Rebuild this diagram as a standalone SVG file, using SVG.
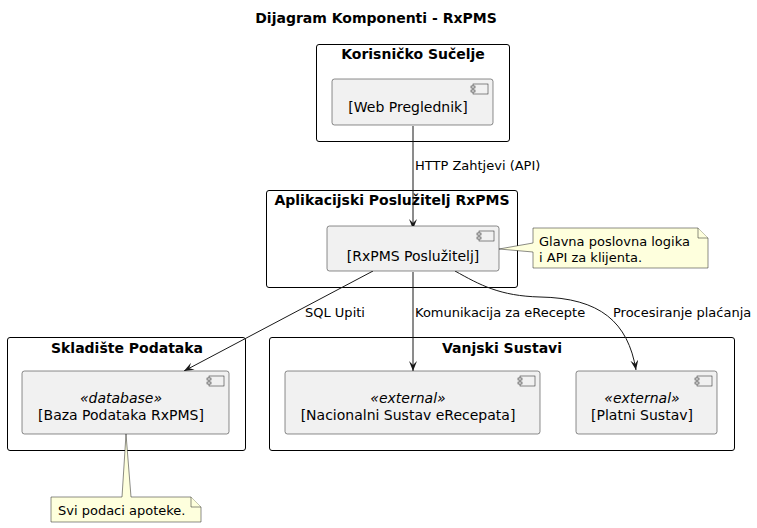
<svg xmlns="http://www.w3.org/2000/svg" width="757" height="528" viewBox="0 0 757 528">
<defs>
<style>
text{font-family:"DejaVu Sans","Liberation Sans",sans-serif;fill:#000}
.title{font-size:14px;font-weight:bold}
.ptitle{font-size:14px;font-weight:bold}
.pkg{fill:none;stroke:#000;stroke-width:1}
.comp{fill:#F1F1F1;stroke:#181818;stroke-width:0.5}
.ctext{font-size:14px}
.stereo{font-size:14px;font-style:italic}
.icon{fill:#F1F1F1;stroke:#181818;stroke-width:0.5}
.note{fill:#FEFFDD;stroke:#181818;stroke-width:0.5}
.ntext{font-size:13px}
.edge{fill:none;stroke:#181818;stroke-width:1}
.elabel{font-size:13px}
</style>
<marker id="arr" markerWidth="10" markerHeight="10" refX="10" refY="4" orient="auto" markerUnits="userSpaceOnUse">
<path d="M0,0 L10,4 L0,8 L4,4 Z" fill="#181818"/>
</marker>
</defs>
<rect width="757" height="528" fill="#fff"/>
<text class="title" x="376" y="23" text-anchor="middle">Dijagram Komponenti - RxPMS</text>

<g id="pkg-korisnicko">
<rect class="pkg" x="316.5" y="44.5" width="193" height="97" rx="2.5"/>
<text class="ptitle" x="413" y="59" text-anchor="middle">Korisničko Sučelje</text>
</g>
<g id="pkg-aplikacijski">
<rect class="pkg" x="266.5" y="190.5" width="251" height="97" rx="2.5"/>
<text class="ptitle" x="392" y="205" text-anchor="middle">Aplikacijski Poslužitelj RxPMS</text>
</g>
<g id="pkg-skladiste">
<rect class="pkg" x="7.5" y="337.5" width="238" height="113" rx="2.5"/>
<text class="ptitle" x="127" y="353" text-anchor="middle">Skladište Podataka</text>
</g>
<g id="pkg-vanjski">
<rect class="pkg" x="269.5" y="337.5" width="465" height="113" rx="2.5"/>
<text class="ptitle" x="502" y="353" text-anchor="middle">Vanjski Sustavi</text>
</g>

<g id="edges">
<path class="edge" d="M413,126 L413,229" marker-end="url(#arr)"/>
<text class="elabel" x="415" y="170">HTTP Zahtjevi (API)</text>
<path class="edge" d="M373,271 L184,371" marker-end="url(#arr)"/>
<text class="elabel" x="305" y="317">SQL Upiti</text>
<path class="edge" d="M413,272 L413,371" marker-end="url(#arr)"/>
<text class="elabel" x="415" y="317">Komunikacija za eRecepte</text>
<path class="edge" d="M455,271 C480,285 500,296 540,297 C600,298 628,322 636,370" marker-end="url(#arr)"/>
<text class="elabel" x="613" y="317">Procesiranje plaćanja</text>
</g>

<g id="web-preglednik">
<rect class="comp" x="332" y="79" width="161" height="46" rx="2.5"/>
<rect class="icon" x="473" y="84" width="15" height="10"/>
<rect class="icon" x="471" y="86" width="4" height="2"/>
<rect class="icon" x="471" y="90" width="4" height="2"/>
<text class="ctext" x="408" y="112" text-anchor="middle">[Web Preglednik]</text>
</g>

<g id="rxpms-posluzitelj">
<rect class="comp" x="327" y="226" width="172" height="45" rx="2.5"/>
<rect class="icon" x="479" y="231" width="15" height="10"/>
<rect class="icon" x="477" y="233" width="4" height="2"/>
<rect class="icon" x="477" y="237" width="4" height="2"/>
<text class="ctext" x="413" y="261" text-anchor="middle">[RxPMS Poslužitelj]</text>
</g>

<g id="note-posluzitelj">
<path class="note" d="M533,228 L698,228 L708,238 L708,268 L533,268 L533,252 L499,249 L533,243 Z"/>
<path class="note" d="M698,228 L698,238 L708,238"/>
<text class="ntext" x="539" y="246">Glavna poslovna logika</text>
<text class="ntext" x="539" y="262">i API za klijenta.</text>
</g>

<g id="baza-podataka">
<rect class="comp" x="22" y="371" width="207" height="63" rx="2.5"/>
<rect class="icon" x="209" y="376" width="15" height="10"/>
<rect class="icon" x="207" y="378" width="4" height="2"/>
<rect class="icon" x="207" y="382" width="4" height="2"/>
<text class="stereo" x="121" y="403" text-anchor="middle">«database»</text>
<text class="ctext" x="121" y="420" text-anchor="middle">[Baza Podataka RxPMS]</text>
</g>

<g id="note-baza">
<path class="note" d="M51,497 L122,497 L126,434 L131,497 L191,497 L201,507 L201,522 L51,522 Z"/>
<path class="note" d="M191,497 L191,507 L201,507"/>
<text class="ntext" x="58" y="515">Svi podaci apoteke.</text>
</g>

<g id="nacionalni-sustav">
<rect class="comp" x="285" y="371" width="255" height="63" rx="2.5"/>
<rect class="icon" x="520" y="376" width="15" height="10"/>
<rect class="icon" x="518" y="378" width="4" height="2"/>
<rect class="icon" x="518" y="382" width="4" height="2"/>
<text class="stereo" x="408" y="403" text-anchor="middle">«external»</text>
<text class="ctext" x="408" y="420" text-anchor="middle">[Nacionalni Sustav eRecepata]</text>
</g>

<g id="platni-sustav">
<rect class="comp" x="576" y="371" width="141" height="63" rx="2.5"/>
<rect class="icon" x="697" y="376" width="15" height="10"/>
<rect class="icon" x="695" y="378" width="4" height="2"/>
<rect class="icon" x="695" y="382" width="4" height="2"/>
<text class="stereo" x="642" y="403" text-anchor="middle">«external»</text>
<text class="ctext" x="642" y="420" text-anchor="middle">[Platni Sustav]</text>
</g>
</svg>
